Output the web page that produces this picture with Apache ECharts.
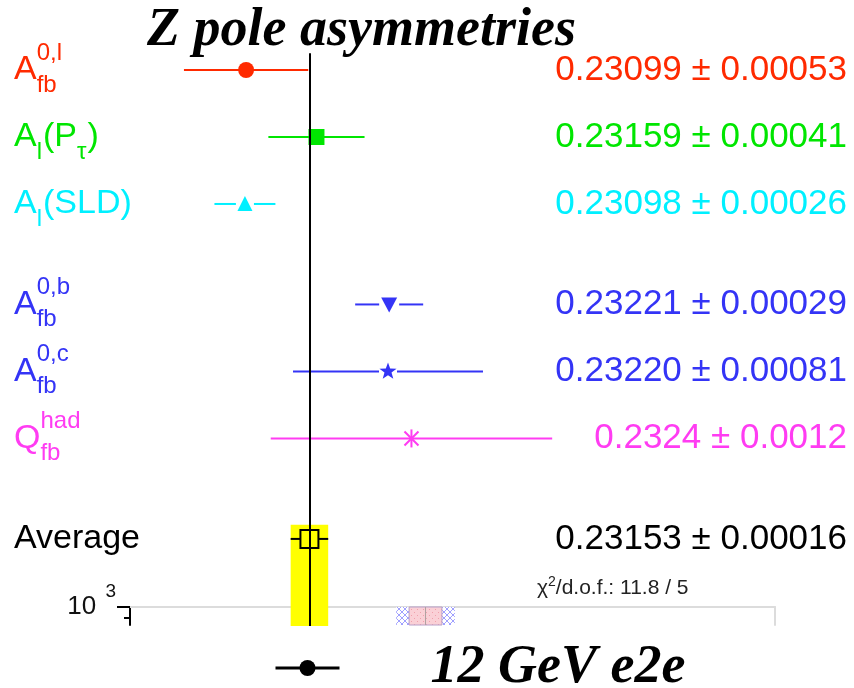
<!DOCTYPE html>
<html>
<head>
<meta charset="utf-8">
<script src="https://cdn.jsdelivr.net/npm/echarts@6/dist/echarts.min.js"></script>
<style>
  html, body { margin: 0; padding: 0; background: #fff; }
  #chart { width: 854px; height: 688px; }
</style>
</head>
<body>
<div id="chart"></div>
<script>
  // measurements, top to bottom
  const labels = ['A_{fb}^{0,l}', 'A_{l}(P_{τ})', 'A_{l}(SLD)', 'A_{fb}^{0,b}', 'A_{fb}^{0,c}', 'Q_{fb}^{had}', 'Average']
  const rows = [0, 1, 2, 3.5, 4.5, 5.5, 7]
  const values = [0.23099, 0.23159, 0.23098, 0.23221, 0.23220, 0.2324, 0.23153]
  const errors = [0.00053, 0.00041, 0.00026, 0.00029, 0.00081, 0.0012, 0.00016]
  const valueTexts = ['0.23099 ± 0.00053', '0.23159 ± 0.00041', '0.23098 ± 0.00026', '0.23221 ± 0.00029',
    '0.23220 ± 0.00081', '0.2324 ± 0.0012', '0.23153 ± 0.00016']
  const chi2 = 11.8
  const ndof = 5

  // projected 12 GeV e2e band in the lower panel
  const projCentre = 0.23252
  const projInner = 0.00014
  const projOuter = 0.00025
  const panelTicks = [1000]
  const panelMinorTicks = [905]

  const colors = ['#ff2a00', '#00e600', '#00f0ff', '#3434f6', '#3434f6', '#ff3cf2', '#000000']
  const markers = ['circle', 'square', 'triangle', 'downTriangle', 'star', 'asterisk', 'openSquare']
  const markerGap = { triangle: 9, downTriangle: 10, star: 9, openSquare: 9 }

  const avgIdx = values.length - 1
  const SANS = '"Liberation Sans", Arial, sans-serif'
  const SERIF = '"Liberation Serif", "Times New Roman", serif'

  const measureCtx = document.createElement('canvas').getContext('2d')
  function textWidth (s, size) {
    measureCtx.font = size + 'px ' + SANS
    return measureCtx.measureText(s).width
  }

  function parseLabel (s) {
    const out = []
    const re = /([_^])\{([^}]*)\}|([^_^]+)/g
    let m
    while ((m = re.exec(s))) {
      if (m[3]) out.push({ kind: 'main', text: m[3] })
      else out.push({ kind: m[1] === '_' ? 'sub' : 'sup', text: m[2] })
    }
    return out
  }

  function markerShapes (kind, cx, cy, color) {
    const fill = { fill: color }
    if (kind === 'circle') return [{ type: 'circle', shape: { cx: cx, cy: cy, r: 8 }, style: fill }]
    if (kind === 'square') return [{ type: 'rect', shape: { x: cx - 8, y: cy - 8, width: 16, height: 16 }, style: fill }]
    if (kind === 'triangle') {
      return [{ type: 'polygon', shape: { points: [[cx, cy - 8], [cx + 7.5, cy + 7], [cx - 7.5, cy + 7]] }, style: fill }]
    }
    if (kind === 'downTriangle') {
      return [{ type: 'polygon', shape: { points: [[cx - 8, cy - 7], [cx + 8, cy - 7], [cx, cy + 8]] }, style: fill }]
    }
    if (kind === 'star') {
      const pts = []
      for (let k = 0; k < 10; k++) {
        const r = k % 2 === 0 ? 9 : 3.7
        const a = -Math.PI / 2 + k * Math.PI / 5
        pts.push([cx + r * Math.cos(a), cy + r * Math.sin(a)])
      }
      return [{ type: 'polygon', shape: { points: pts }, style: fill }]
    }
    if (kind === 'asterisk') {
      const st = { stroke: color, lineWidth: 2 }
      return [
        { type: 'line', shape: { x1: cx, y1: cy - 9, x2: cx, y2: cy + 9 }, style: st },
        { type: 'line', shape: { x1: cx - 7, y1: cy - 7, x2: cx + 7, y2: cy + 7 }, style: st },
        { type: 'line', shape: { x1: cx - 7, y1: cy + 7, x2: cx + 7, y2: cy - 7 }, style: st }
      ]
    }
    // open square for the average
    return [{ type: 'rect', shape: { x: cx - 9, y: cy - 9, width: 18, height: 18 },
      style: { fill: 'none', stroke: color, lineWidth: 2 } }]
  }

  function renderPoint (params, api) {
    const i = params.dataIndex
    const c = api.coord([values[i], rows[i]])
    const lo = api.coord([values[i] - errors[i], rows[i]])[0]
    const hi = api.coord([values[i] + errors[i], rows[i]])[0]
    const gap = markerGap[markers[i]] || 0
    const st = { stroke: colors[i], lineWidth: 2 }
    const children = []
    if (gap) {
      children.push({ type: 'line', shape: { x1: lo, y1: c[1], x2: c[0] - gap, y2: c[1] }, style: st })
      children.push({ type: 'line', shape: { x1: c[0] + gap, y1: c[1], x2: hi, y2: c[1] }, style: st })
    } else {
      children.push({ type: 'line', shape: { x1: lo, y1: c[1], x2: hi, y2: c[1] }, style: st })
    }
    return { type: 'group', children: children.concat(markerShapes(markers[i], c[0], c[1], colors[i])) }
  }

  function renderLabel (params, api) {
    const i = params.dataIndex
    const y = api.coord([values[i], rows[i]])[1]
    const cs = params.coordSys
    const children = []
    let x = cs.x - 116
    let lastStart = x
    let lastKind = null
    parseLabel(labels[i]).forEach(function (tok) {
      const size = tok.kind === 'main' ? 34 : 24
      const w = textWidth(tok.text, size)
      const stacked = tok.kind === 'sup' && lastKind === 'sub'
      const tx = stacked ? lastStart : x
      const dy = tok.kind === 'sub' ? 15 : (tok.kind === 'sup' ? -17 : 0)
      children.push({ type: 'text', style: { text: tok.text, x: tx, y: y + dy, fill: colors[i],
        fontSize: size, fontFamily: SANS, align: 'left', verticalAlign: 'middle' } })
      if (stacked) {
        x = Math.max(x, tx + w)
      } else {
        lastStart = tx
        x = tx + w + (tok.kind === 'sub' ? 1 : 0)
      }
      lastKind = tok.kind
    })
    children.push({ type: 'text', style: { text: valueTexts[i], x: cs.x + cs.width + 72, y: y, fill: colors[i],
      fontSize: 35, fontFamily: SANS, align: 'right', verticalAlign: 'middle' } })
    return { type: 'group', children: children }
  }

  function patternCanvas (kind) {
    const c = document.createElement('canvas')
    c.width = 6
    c.height = 6
    const g = c.getContext('2d')
    if (kind === 'hatch') {
      g.fillStyle = '#ffffff'
      g.fillRect(0, 0, 6, 6)
      g.strokeStyle = '#a0a0ff'
      g.lineWidth = 1
      g.beginPath()
      g.moveTo(0, 6); g.lineTo(6, 0)
      g.moveTo(0, 0); g.lineTo(6, 6)
      g.stroke()
    } else {
      g.fillStyle = '#fad0d6'
      g.fillRect(0, 0, 6, 6)
      g.fillStyle = '#f0a0ac'
      g.fillRect(0, 0, 1, 1)
      g.fillRect(3, 3, 1, 1)
    }
    return c
  }
  const hatchFill = { image: patternCanvas('hatch'), repeat: 'repeat' }
  const pinkFill = { image: patternCanvas('dots'), repeat: 'repeat' }

  function renderProjection (params, api) {
    const cs = params.coordSys
    const px = function (v) { return api.coord([v, panelTicks[0]])[0] }
    const o1 = px(projCentre - projOuter)
    const o2 = px(projCentre + projOuter)
    const i1 = px(projCentre - projInner)
    const i2 = px(projCentre + projInner)
    const m = px(projCentre)
    return {
      type: 'group',
      children: [
        { type: 'rect', shape: { x: o1, y: cs.y, width: o2 - o1, height: cs.height }, style: { fill: hatchFill } },
        { type: 'rect', shape: { x: i1, y: cs.y, width: i2 - i1, height: cs.height },
          style: { fill: pinkFill, stroke: '#b8a0c8', lineWidth: 1 } },
        { type: 'line', shape: { x1: m, y1: cs.y, x2: m, y2: cs.y + cs.height }, style: { stroke: '#b0a0a0', lineWidth: 1 } }
      ]
    }
  }

  const chart = echarts.init(document.getElementById('chart'))
  const option = {
    animation: false,
    backgroundColor: '#ffffff',
    title: [
      {
        text: 'Z pole asymmetries',
        left: 147,
        top: 4,
        padding: 0,
        textStyle: { fontFamily: SERIF, fontStyle: 'italic', fontWeight: 'bold', fontSize: 54, color: '#000' }
      },
      {
        text: '{t|χ}{s|2}{t|/d.o.f.: ' + chi2 + ' / ' + ndof + '}',
        left: 537,
        top: 575,
        padding: 0,
        textStyle: {
          fontWeight: 'normal',
          rich: {
            t: { fontFamily: SANS, fontSize: 21, fontWeight: 'normal', color: '#222' },
            s: { fontFamily: SANS, fontSize: 14, fontWeight: 'normal', color: '#222', padding: [0, 0, 12, 0] }
          }
        }
      }
    ],
    legend: {
      data: ['12 GeV e2e'],
      left: 274,
      top: 641,
      padding: 0,
      itemWidth: 64,
      itemHeight: 20,
      lineStyle: { width: 3 },
      formatter: function (name) { return '{g|}' + name },
      textStyle: {
        fontFamily: SERIF, fontStyle: 'italic', fontWeight: 'bold', fontSize: 54, color: '#000',
        rich: { g: { width: 86 } }
      }
    },
    grid: [
      { left: 130, right: 79, top: 3, height: 623 },
      { left: 130, right: 79, top: 607, height: 18 }
    ],
    xAxis: [
      { gridIndex: 0, type: 'value', min: 0.23, max: 0.2355, show: false },
      {
        gridIndex: 1, type: 'value', min: 0.23, max: 0.2355, position: 'top',
        axisLine: { show: true, lineStyle: { color: '#dcdcdc', width: 2 } },
        axisTick: { show: false }, axisLabel: { show: false }, splitLine: { show: false }
      }
    ],
    yAxis: [
      { gridIndex: 0, type: 'value', min: -1, max: 8.3, inverse: true, show: false },
      {
        gridIndex: 1, type: 'log', min: 850, max: 1000, position: 'left',
        axisLine: { show: true, lineStyle: { color: '#000', width: 2 } },
        axisTick: { show: true, length: 13, customValues: panelTicks, lineStyle: { color: '#000', width: 2 } },
        axisLabel: {
          show: true, margin: 14, customValues: panelTicks,
          formatter: function (v) { return '{b|10 }{e|' + Math.round(Math.log10(v)) + '}' },
          rich: {
            b: { fontFamily: SANS, fontSize: 26, color: '#111' },
            e: { fontFamily: SANS, fontSize: 19, color: '#111', padding: [0, 0, 30, 2] }
          }
        },
        splitLine: { show: false }
      },
      {
        gridIndex: 1, type: 'log', min: 850, max: 1000, position: 'left',
        axisLine: { show: false },
        axisTick: { show: true, length: 6, customValues: panelMinorTicks, lineStyle: { color: '#000', width: 2 } },
        axisLabel: { show: false },
        splitLine: { show: false }
      },
      {
        gridIndex: 1, type: 'log', min: 850, max: 1000, position: 'right',
        axisLine: { show: true, lineStyle: { color: '#dcdcdc', width: 2 } },
        axisTick: { show: false }, axisLabel: { show: false }, splitLine: { show: false }
      }
    ],
    series: [
      {
        name: 'band',
        type: 'line',
        xAxisIndex: 0,
        yAxisIndex: 0,
        z: 1,
        symbol: 'none',
        data: [[values[avgIdx], rows[avgIdx]]],
        markArea: {
          silent: true,
          itemStyle: { color: '#ffff00' },
          data: [[{ coord: [values[avgIdx] - errors[avgIdx], rows[avgIdx] - 0.21] },
            { coord: [values[avgIdx] + errors[avgIdx], 8.3] }]]
        }
      },
      {
        name: 'projection',
        type: 'custom',
        xAxisIndex: 1,
        yAxisIndex: 1,
        z: 2,
        clip: false,
        renderItem: renderProjection,
        data: [[projCentre, panelTicks[0]]]
      },
      {
        name: 'average line',
        type: 'line',
        xAxisIndex: 0,
        yAxisIndex: 0,
        z: 3,
        symbol: 'none',
        data: [[values[avgIdx], rows[avgIdx]]],
        markLine: {
          silent: true,
          symbol: 'none',
          label: { show: false },
          lineStyle: { color: '#000', width: 2, type: 'solid' },
          data: [[{ coord: [values[avgIdx], rows[0] - 0.25] }, { coord: [values[avgIdx], 8.3] }]]
        }
      },
      {
        name: 'measurements',
        type: 'custom',
        xAxisIndex: 0,
        yAxisIndex: 0,
        z: 4,
        clip: false,
        renderItem: renderPoint,
        data: values.map(function (v, i) { return [v, rows[i]] })
      },
      {
        name: 'labels',
        type: 'custom',
        xAxisIndex: 0,
        yAxisIndex: 0,
        z: 4,
        clip: false,
        renderItem: renderLabel,
        data: values.map(function (v, i) { return [v, rows[i]] })
      },
      {
        name: '12 GeV e2e',
        type: 'line',
        xAxisIndex: 0,
        yAxisIndex: 0,
        symbol: 'circle',
        symbolSize: 16,
        itemStyle: { color: '#000' },
        lineStyle: { color: '#000', width: 3 },
        data: []
      }
    ]
  }
  chart.setOption(option)
</script>
</body>
</html>
